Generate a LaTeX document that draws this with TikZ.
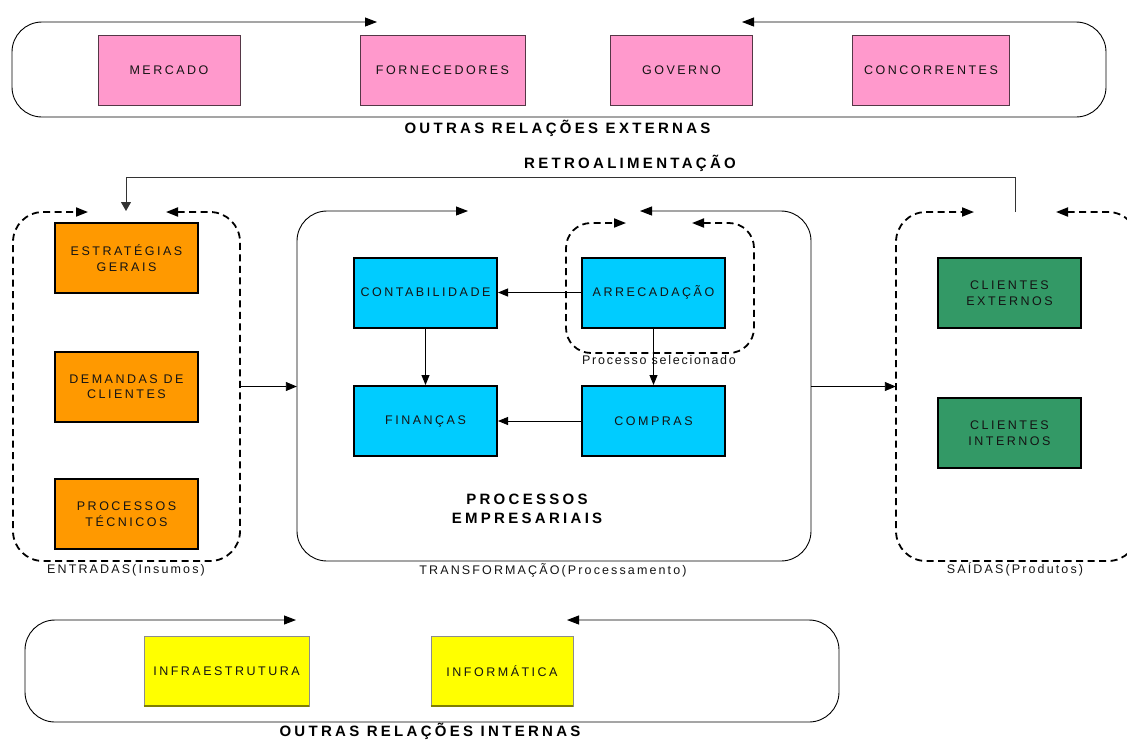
\documentclass[tikz,border=0pt]{standalone}
\usepackage{fontspec}
\setmainfont{Liberation Sans}
\newfontfamily\boxfont{Liberation Sans}[LetterSpace=20]
\newfontfamily\headfont{Liberation Sans}[LetterSpace=22]
\newfontfamily\notefont{Liberation Sans}[LetterSpace=17]
\newfontfamily\smallnotefont{Liberation Sans}[LetterSpace=14]
\usetikzlibrary{arrows.meta}

\definecolor{pinkfill}{RGB}{255,153,204}
\definecolor{pinkedge}{RGB}{85,55,70}
\definecolor{orangefill}{RGB}{255,153,0}
\definecolor{cyanfill}{RGB}{0,204,255}
\definecolor{greenfill}{RGB}{51,153,102}
\definecolor{yellowfill}{RGB}{255,255,0}
\definecolor{yellowshade}{RGB}{128,128,0}
\definecolor{inkc}{RGB}{20,20,20}

\tikzset{
  bigtip/.tip={Triangle[length=12pt,width=9pt]},
  smalltip/.tip={Triangle[length=10pt,width=8pt]},
  flowtip/.tip={Triangle[length=11pt,width=9pt]},
  boxtext/.style={font=\boxfont\fontsize{12.5}{15.5}\selectfont, text=inkc, align=center, inner sep=0pt},
  pinkbox/.style={boxtext, rectangle, fill=pinkfill, draw=pinkedge, line width=1pt,
    minimum width=#1, minimum height=70pt},
  solidbox/.style={boxtext, rectangle, draw=black, line width=2pt,
    minimum width=143pt, minimum height=70pt},
  orangebox/.style={solidbox, fill=orangefill},
  cyanbox/.style={solidbox, fill=cyanfill},
  greenbox/.style={solidbox, fill=greenfill},
  yellowbox/.style={boxtext, rectangle, fill=yellowfill, draw=black!45, line width=0.8pt,
    minimum width=#1, minimum height=70pt},
  region/.style={rectangle, draw=none, inner sep=0pt, minimum width=#1},
  head/.style={font=\headfont\bfseries\fontsize{15}{18.5}\selectfont, text=black, align=center, inner sep=0pt},
  note/.style={font=\notefont\fontsize{12.5}{14}\selectfont, text=inkc, inner sep=0pt},
  loopline/.style={line width=0.9pt, rounded corners=30pt, {bigtip}-{bigtip}},
  dashloop/.style={line width=1.8pt, dash pattern=on 7pt off 4.5pt, rounded corners=30pt, {bigtip}-{bigtip}},
  conn/.style={line width=0.9pt, -{smalltip}},
}

\begin{document}
\begin{tikzpicture}[x=1pt,y=-1pt]
\useasboundingbox (0,0) rectangle (1127,740);
\clip (0,0) rectangle (1127,740);

% ---------- external relations ----------
\coordinate (extR) at (377,22);
\coordinate (extL) at (742,22);
\draw[loopline] (extL) -- (1106,22) -- (1106,117) -- (12,117) -- (12,22) -- (extR);

\node[pinkbox=142pt] (mercado) at (169,70) {MERCADO};
\node[pinkbox=165pt] (fornec) at (442.5,70) {FORNECEDORES};
\node[pinkbox=142pt] (governo) at (681.5,70) {GOVERNO};
\node[pinkbox=157pt] (concorr) at (931,70) {CONCORRENTES};
\node[head] (extlbl) at (557.5,128) {OUTRAS RELAÇÕES EXTERNAS};

% ---------- feedback ----------
\node[head] (retro) at (630,163) {RETROALIMENTAÇÃO};
\coordinate (fbStart) at (1015,212);
\coordinate (fbEnd) at (126,211);
\draw[line width=0.9pt, black!80, -{Triangle[length=9pt,width=10pt]}]
  (fbStart) -- (1015,177.5) -| (fbEnd);

% ---------- inputs ----------
\node[region=227pt, minimum height=349pt] (entradas) at (126.5,386.5) {};
\draw[dashloop] (166,212) -- (240,212) -- (240,561) -- (13,561) -- (13,212) -- (88,212);
\node[orangebox] (estrat) at (126.5,258) {ESTRATÉGIAS\\GERAIS};
\node[orangebox] (demandas) at (126.5,386.5) {DEMANDAS DE\\CLIENTES};
\node[orangebox] (proctec) at (126.5,514) {PROCESSOS\\TÉCNICOS};
\node[note] (entlbl) at (126,570) {ENTRADAS(Insumos)};

% ---------- transformation ----------
\node[region=514pt, minimum height=350pt] (transf) at (554,386.5) {};
\draw[loopline] (640,211) -- (811,211) -- (811,561) -- (297,561) -- (297,211) -- (468,211);
\node[note] (translbl) at (553,570) {TRANSFORMAÇÃO(Processamento)};

\draw[dashloop, rounded corners=25pt] (692,223) -- (754,223) -- (754,353) -- (566,353) -- (566,223) -- (626,223);
\node[note, font=\smallnotefont\fontsize{12.5}{14}\selectfont] (sellbl) at (659,360) {Processo selecionado};

\node[cyanbox] (contab) at (425.5,292.5) {CONTABILIDADE};
\node[cyanbox] (arrec) at (653.5,292.5) {ARRECADAÇÃO};
\node[cyanbox] (financas) at (425.5,421) {FINANÇAS};
\node[cyanbox] (compras) at (653.5,421) {COMPRAS};
\draw[conn] (arrec.west) -- (contab.east);
\draw[conn] (contab.south) -- (financas.north);
\draw[conn] (arrec.south) -- (compras.north);
\draw[conn] (compras.west) -- (financas.east);
\node[head] (proclbl) at (527,509) {PROCESSOS\\EMPRESARIAIS};

% ---------- outputs ----------
\node[region=242pt, minimum height=349pt] (saidas) at (1017,386.5) {};
\draw[dashloop] (1056,212) -- (1138,212) -- (1138,561) -- (896,561) -- (896,212) -- (974,212);
\node[greenbox] (cliext) at (1009.5,293) {CLIENTES\\EXTERNOS};
\node[greenbox] (cliint) at (1009.5,433) {CLIENTES\\INTERNOS};
\node[note] (saidlbl) at (1015,569) {SAÍDAS(Produtos)};

% ---------- main flow ----------
\draw[conn, -{flowtip}] (entradas.east) -- (transf.west);
\draw[conn, -{flowtip}] (transf.east) -- (saidas.west);

% ---------- internal relations ----------
\coordinate (intR) at (296,620);
\coordinate (intL) at (567,620);
\draw[loopline] (intL) -- (839,620) -- (839,722) -- (25,722) -- (25,620) -- (intR);
\node[yellowbox=165pt] (infra) at (226.5,671) {INFRAESTRUTURA};
\node[yellowbox=142pt] (informat) at (502,671) {INFORMÁTICA};
\draw[yellowshade, line width=2pt] (infra.south west) -- (infra.south east);
\draw[yellowshade, line width=2pt] (informat.south west) -- (informat.south east);
\node[head] (intlbl) at (430,731) {OUTRAS RELAÇÕES INTERNAS};

\end{tikzpicture}
\end{document}
